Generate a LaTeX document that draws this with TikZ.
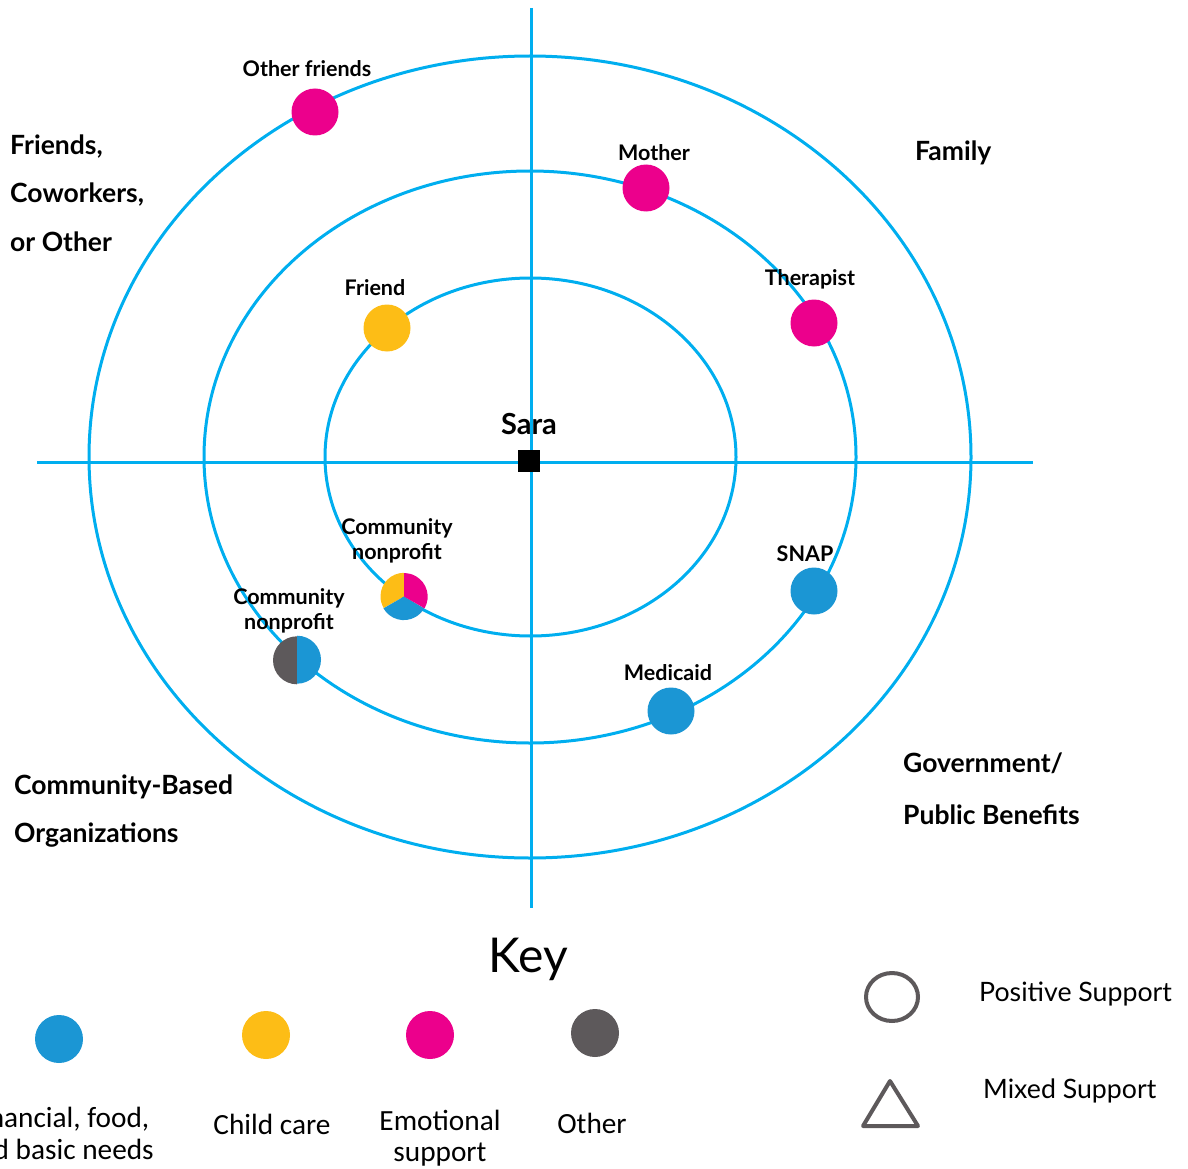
\documentclass[tikz,border=0pt]{standalone}
\usepackage{fontspec}
\usetikzlibrary{shapes.geometric}
\setmainfont{Lato}
\newfontfamily\carl{Carlito}
\definecolor{ringc}{HTML}{00AEEF}
\definecolor{cblue}{HTML}{1B96D4}
\definecolor{cyel}{HTML}{FDBD16}
\definecolor{cmag}{HTML}{EC008C}
\definecolor{cgray}{HTML}{5D595B}
\tikzset{
  ring/.style={draw=ringc, line width=3pt},
  axis/.style={draw=ringc, line width=3pt},
  dot/.style={circle, minimum size=47pt, inner sep=0pt, fill=#1},
  pie/.style={circle, minimum size=47pt, inner sep=0pt},
  lbl/.style={font=\fontsize{21.5}{25}\selectfont\bfseries, anchor=base, inner sep=0pt},
  cat/.style={font=\fontsize{26.5}{30}\selectfont\bfseries, anchor=base west, inner sep=0pt},
  leg/.style={font=\carl\fontsize{29.3}{34}\selectfont, anchor=base, inner sep=0pt},
  legr/.style={font=\fontsize{26.7}{31}\selectfont, anchor=base west, inner sep=0pt},
  keydot/.style={circle, minimum size=48pt, inner sep=0pt, fill=#1},
}
\begin{document}
\begin{tikzpicture}[x=1pt,y=-1pt]
\useasboundingbox (0,0) rectangle (1188,1169);
% axes
\coordinate (vt) at (531,8);
\coordinate (vb) at (531,908);
\coordinate (hl) at (37,462);
\coordinate (hr) at (1033,462);
\draw[axis] (vt) -- (vb);
\draw[axis] (hl) -- (hr);
% rings
\coordinate (ctr) at (530,457);
\draw[ring] (ctr) ellipse [x radius=441, y radius=401];
\draw[ring] (ctr) ellipse [x radius=326, y radius=286];
\draw[ring] (530.5,457) ellipse [x radius=205.5, y radius=179];
% center
\node[fill=black, minimum size=22pt, inner sep=0pt] (sara) at (529,461) {};
\node[font=\fontsize{29}{34}\selectfont\bfseries, anchor=base, inner sep=0pt] (saral) at (529,434) {Sara};
% dots
\node[dot=cmag] (ofr) at (315,112) {};
\node[lbl] (ofrl) at (307,77) {Other friends};
\node[dot=cmag] (mom) at (646,188) {};
\node[lbl] (moml) at (654,161) {Mother};
\node[dot=cmag] (ther) at (814,323) {};
\node[lbl] (therl) at (810,285) {Therapist};
\node[dot=cyel] (fr) at (387,328) {};
\node[lbl] (frl) at (375,295) {Friend};
\node[dot=cblue] (snap) at (814,591) {};
\node[lbl] (snapl) at (805,561) {SNAP};
\node[dot=cblue] (med) at (671,711) {};
\node[lbl] (medl) at (668,680) {Medicaid};
% pie 1
\node[pie] (cn1) at (404,596.5) {};
\fill[cyel] (cn1.center) -- (cn1.90) arc[start angle=-90, end angle=-210, radius=23.5] -- cycle;
\fill[cblue] (cn1.center) -- (cn1.210) arc[start angle=-210, end angle=-330, radius=23.5] -- cycle;
\fill[cmag] (cn1.center) -- (cn1.330) arc[start angle=-330, end angle=-450, radius=23.5] -- cycle;
\node[lbl] (cn1a) at (397,534) {Community};
\node[lbl] (cn1b) at (397,559) {nonprofit};
% pie 2
\node[pie] (cn2) at (297,660) {};
\fill[cgray] (cn2.center) -- (cn2.90) arc[start angle=-90, end angle=-270, radius=24] -- cycle;
\fill[cblue] (cn2.center) -- (cn2.270) arc[start angle=-270, end angle=-450, radius=24] -- cycle;
\node[lbl] (cn2a) at (289,604) {Community};
\node[lbl] (cn2b) at (289,629) {nonprofit};
% category labels
\node[cat] (c1a) at (10,155) {Friends,};
\node[cat] (c1b) at (10,203) {Coworkers,};
\node[cat] (c1c) at (10,251) {or Other};
\node[cat] (c2) at (915,161) {Family};
\node[cat] (c3a) at (903,772) {Government/};
\node[cat] (c3b) at (903,824) {Public Benefits};
\node[cat] (c4a) at (14,794) {Community-Based};
\node[cat] (c4b) at (14,842) {Organizations};
% key
\node[font=\fontsize{48}{54}\selectfont, anchor=base, inner sep=0pt] (key) at (528,972) {Key};
\node[keydot=cblue] (k1) at (59,1039) {};
\node[keydot=cyel] (k2) at (266,1035) {};
\node[keydot=cmag] (k3) at (430,1035) {};
\node[keydot=cgray] (k4) at (595,1033) {};
\node[leg] (k1a) at (59,1127) {Financial, food,};
\node[leg] (k1b) at (59,1159) {and basic needs};
\node[leg] (k2a) at (272,1134) {Child care};
\node[leg] (k3a) at (440,1130) {Emotional};
\node[leg] (k3b) at (440,1161) {support};
\node[leg] (k4a) at (592,1133) {Other};
\node[draw=cgray, line width=4pt, ellipse, minimum width=52pt, minimum height=48pt, inner sep=0pt] (pos) at (892,997) {};
\node[legr] (posl) at (979,1001) {Positive Support};
\coordinate (ta) at (890,1081);
\coordinate (tl) at (863,1126);
\coordinate (tr) at (918,1126);
\draw[cgray, line width=4pt, line join=round] (ta) -- (tr) -- (tl) -- cycle;
\node[legr] (mixl) at (983,1098) {Mixed Support};
\end{tikzpicture}
\end{document}
